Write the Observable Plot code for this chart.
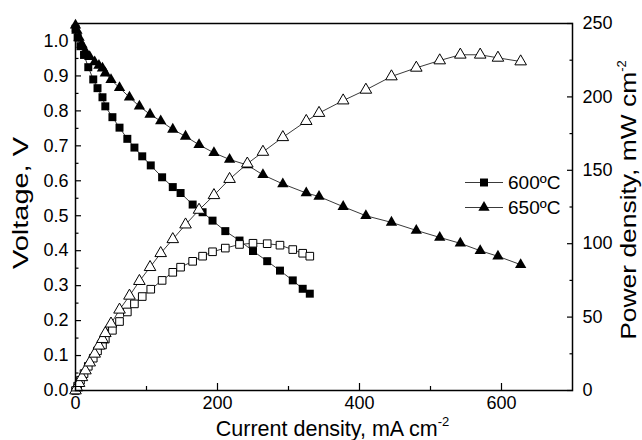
<!DOCTYPE html>
<html><head><meta charset="utf-8">
<script src="https://cdn.jsdelivr.net/npm/d3@7"></script>
<script src="https://cdn.jsdelivr.net/npm/@observablehq/plot@0.6"></script>
<style>
html,body{margin:0;padding:0;background:#fff;}
#wrap{position:relative;width:642px;height:440px;font-family:"Liberation Sans",Arial,sans-serif;background:#fff;overflow:hidden;}
#wrap svg{position:absolute;left:0;top:0;background:transparent !important;}
</style></head><body><div id="wrap"></div>
<script>
// ---- data ----
const current600 = [0, 3, 7, 12, 18, 25, 31, 38, 42, 52, 62, 73, 83, 94, 106, 122, 137, 148, 165, 179, 193, 211, 231, 250, 270, 288, 306, 320, 330];
const voltage600 = [1.035, 1.01, 0.985, 0.96, 0.925, 0.89, 0.865, 0.839, 0.813, 0.782, 0.752, 0.72, 0.695, 0.67, 0.644, 0.61, 0.582, 0.565, 0.532, 0.51, 0.486, 0.456, 0.429, 0.399, 0.37, 0.343, 0.315, 0.291, 0.277];
const power600 = [0, 3, 7, 11.5, 16.5, 22, 27, 31, 35, 41, 47, 53.5, 59, 64, 69, 75, 80.5, 84, 88, 91.5, 94.5, 97, 99.5, 100.3, 100, 99, 96, 93.5, 91.5];

const current650 = [0, 2, 5, 9, 14, 20, 27, 33, 38, 42, 50, 62, 76, 90, 105, 120, 137, 155, 174, 195, 217, 242, 264, 292, 325, 343, 377, 409, 445, 480, 513, 542, 570, 595, 627];
const voltage650 = [1.045, 1.03, 1.01, 0.99, 0.97, 0.955, 0.94, 0.93, 0.922, 0.908, 0.889, 0.866, 0.839, 0.813, 0.79, 0.771, 0.747, 0.727, 0.703, 0.68, 0.661, 0.645, 0.617, 0.591, 0.565, 0.555, 0.526, 0.5, 0.481, 0.458, 0.438, 0.421, 0.4, 0.384, 0.36];
const power650 = [0, 2, 5, 9, 13.6, 19, 25, 30.5, 35, 39, 45.5, 55, 64.5, 74.5, 84, 93.5, 103, 113, 123, 133, 144, 154.5, 162.5, 172.5, 183.5, 189, 197.5, 204.8, 213.9, 219.8, 224.8, 228.7, 228.7, 226.6, 224.1];

const seriesNames = ["600ºC", "650ºC"];
const xTicks = [0, 200, 400, 600];
const xMinor = [100, 300, 500];
const vTicks = [0, 0.1, 0.2, 0.3, 0.4, 0.5, 0.6, 0.7, 0.8, 0.9, 1.0];
const vMinor = [0.05, 0.15, 0.25, 0.35, 0.45, 0.55, 0.65, 0.75, 0.85, 0.95];
const pTicks = [0, 50, 100, 150, 200, 250];
const pMinor = [25, 75, 125, 175, 225];
const xTitle = "Current density,  mA cm";
const vTitle = "Voltage, V";
const pTitle = "Power density,  mW cm";
const unitSup = "-2";

// ---- tables ----
const rows600 = current600.map((I, i) => ({I, V: voltage600[i], P: power600[i]}));
const rows650 = current650.map((I, i) => ({I, V: voltage650[i], P: power650[i]}));

const W = 642, H = 440;
const M = {left: 75, right: 70, top: 23, bottom: 50};
const font = '"Liberation Sans", Arial, sans-serif';
const common = {
  width: W, height: H,
  marginLeft: M.left, marginRight: M.right, marginTop: M.top, marginBottom: M.bottom,
  style: {fontFamily: font, fontSize: "18px", color: "#000", background: "transparent"}
};
const lineStroke = "#3a3a3a";

const plotV = Plot.plot({
  ...common,
  x: {domain: [0, 700], label: null},
  y: {domain: [0, 1.05], label: null},
  marks: [
    Plot.line(rows600, {x: "I", y: "V", stroke: lineStroke, strokeWidth: 1}),
    Plot.line(rows650, {x: "I", y: "V", stroke: lineStroke, strokeWidth: 1}),
    Plot.dot(rows600, {x: "I", y: "V", symbol: "square", r: 4.5, fill: "#000", stroke: "none"}),
    Plot.dot(rows650, {x: "I", y: "V", symbol: "triangle", r: 4.2, fill: "#000", stroke: "none"}),
    Plot.axisY({ticks: vTicks, tickSize: -6, fill: "none", label: null, strokeWidth: 1.2}),
    Plot.axisY({ticks: vMinor, tickSize: -3.5, fill: "none", label: null, strokeWidth: 1.2}),
    Plot.axisY({ticks: vTicks, tickSize: 0, tickPadding: 7, tickFormat: d3.format(".1f"), label: null}),
    Plot.axisX({ticks: xTicks, tickSize: -7, fill: "none", label: null, strokeWidth: 1.2}),
    Plot.axisX({ticks: xMinor, tickSize: -4, fill: "none", label: null, strokeWidth: 1.2}),
    Plot.axisX({ticks: xTicks, tickSize: 0, tickPadding: 6, tickFormat: d => String(d), label: null})
  ]
});

const plotP = Plot.plot({
  ...common,
  x: {domain: [0, 700], label: null, axis: null},
  y: {domain: [0, 250], label: null},
  marks: [
    Plot.line(rows600, {x: "I", y: "P", stroke: lineStroke, strokeWidth: 1}),
    Plot.line(rows650, {x: "I", y: "P", stroke: lineStroke, strokeWidth: 1}),
    Plot.dot(rows600, {x: "I", y: "P", symbol: "square", r: 4.3, fill: "#fff", stroke: "#000", strokeWidth: 1}),
    Plot.dot(rows650, {x: "I", y: "P", symbol: "triangle", r: 4.3, fill: "#fff", stroke: "#000", strokeWidth: 1}),
    Plot.axisY({anchor: "right", ticks: pTicks, tickSize: -6, fill: "none", label: null, strokeWidth: 1.2}),
    Plot.axisY({anchor: "right", ticks: pMinor, tickSize: -3.5, fill: "none", label: null, strokeWidth: 1.2}),
    Plot.axisY({anchor: "right", ticks: pTicks, tickSize: 0, tickPadding: 10, tickFormat: d => String(d), label: null}),
    Plot.frame({stroke: "#000", strokeWidth: 1.5})
  ]
});

const wrap = document.getElementById("wrap");
wrap.appendChild(plotV);
wrap.appendChild(plotP);

// ---- titles and legend overlay ----
const ov = d3.select(wrap).append("svg")
  .attr("width", W).attr("height", H)
  .style("font-family", font);

const cx = (M.left + (W - M.right)) / 2;

const tx = ov.append("text").attr("x", cx + 9).attr("y", 436)
  .attr("text-anchor", "middle").attr("font-size", 21.5).attr("fill", "#000");
tx.append("tspan").text(xTitle);
tx.append("tspan").attr("font-size", 13).attr("dy", -10).text(unitSup);

ov.append("text").attr("transform", "translate(28,203) rotate(-90)")
  .attr("text-anchor", "middle").attr("font-size", 22).attr("fill", "#000")
  .attr("textLength", 132).attr("lengthAdjust", "spacingAndGlyphs").text(vTitle);

const tp = ov.append("text").attr("transform", "translate(636,200) rotate(-90)")
  .attr("text-anchor", "middle").attr("font-size", 22).attr("fill", "#000");
tp.append("tspan").attr("textLength", 268).attr("lengthAdjust", "spacingAndGlyphs").text(pTitle);
tp.append("tspan").attr("font-size", 13).attr("dy", -10).text(unitSup);

// legend
const legendSymbols = [d3.symbolSquare, d3.symbolTriangle];
const legendSizes = [Math.PI * 4.5 * 4.5, Math.PI * 4.2 * 4.2];
seriesNames.forEach((name, i) => {
  const y = 182.5 + i * 25;
  const g = ov.append("g");
  g.append("line").attr("x1", 465).attr("x2", 503).attr("y1", y).attr("y2", y)
    .attr("stroke", lineStroke).attr("stroke-width", 1);
  g.append("path").attr("d", d3.symbol(legendSymbols[i], legendSizes[i])())
    .attr("transform", `translate(484,${y})`).attr("fill", "#000");
  g.append("text").attr("x", 508).attr("y", y + 6.5).attr("font-size", 19)
    .attr("fill", "#000").text(name);
});
</script>
</body></html>
